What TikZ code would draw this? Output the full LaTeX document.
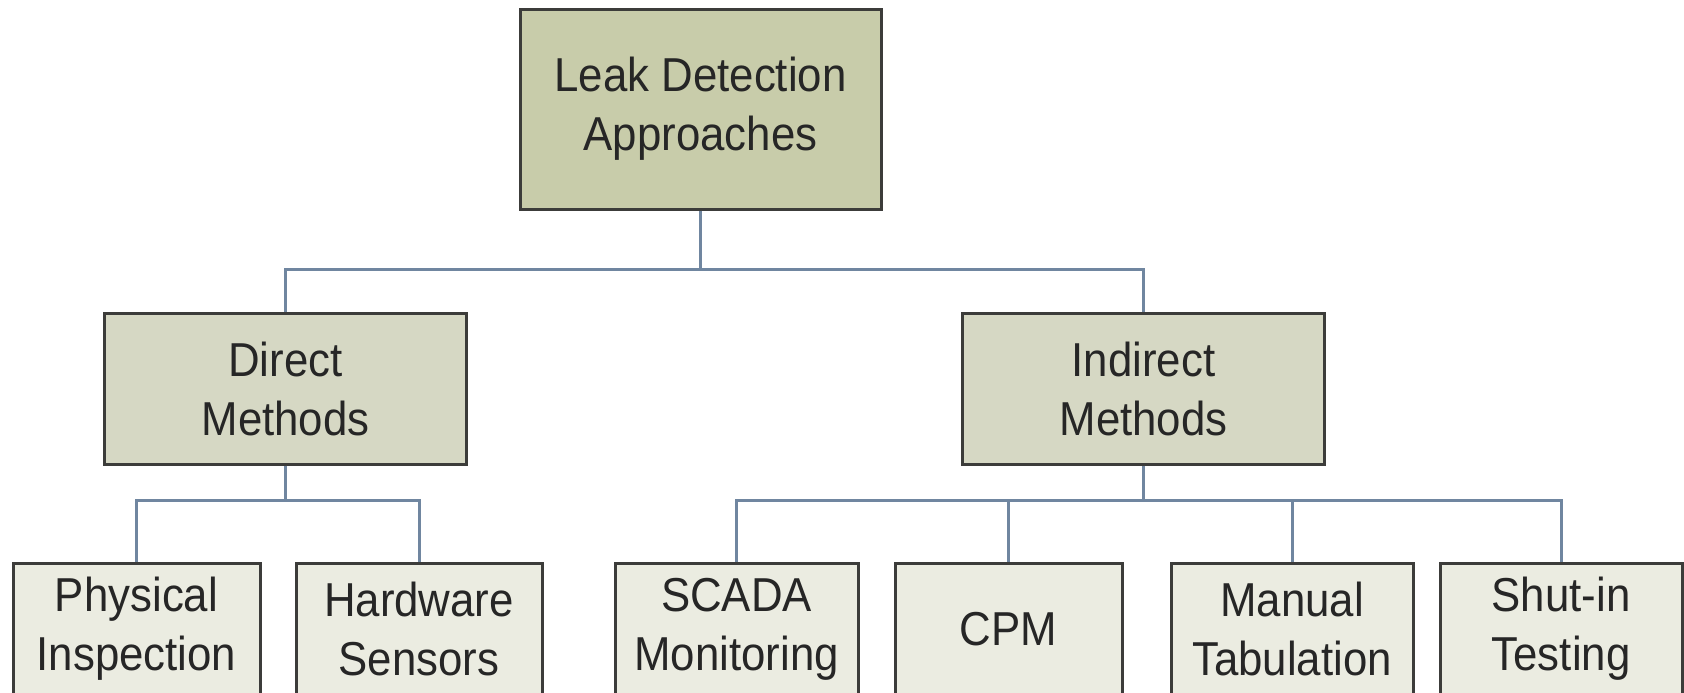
\documentclass[tikz,border=0pt]{standalone}
\usepackage{fontspec}
\setmainfont{Liberation Sans}[FakeStretch=0.92]
\definecolor{topfill}{RGB}{200,204,170}
\definecolor{midfill}{RGB}{214,216,196}
\definecolor{lowfill}{RGB}{235,236,225}
\definecolor{boxline}{RGB}{60,60,58}
\definecolor{conn}{RGB}{112,134,160}
\begin{document}
\begin{tikzpicture}[x=0.5pt,y=-0.5pt,
  box/.style={draw=boxline, line width=1.5pt, inner sep=0pt, align=center,
    font=\fontsize{23.8pt}{29.5pt}\selectfont, text=black!85},
  topbox/.style={box, fill=topfill, minimum width=180.5pt, minimum height=100pt},
  midbox/.style={box, fill=midfill, minimum width=181pt, minimum height=75.5pt},
  lowbox/.style={box, fill=lowfill, minimum height=66pt},
  link/.style={draw=conn, line width=1.5pt}]
\useasboundingbox (0,0) rectangle (1684,692);
\clip (0,0) rectangle (1684,692);
\fill[white] (0,0) rectangle (1684,692);
\node[topbox] (top) at (700.5,109) {Leak Detection\\Approaches};
\node[midbox] (direct) at (285.5,388.5) {Direct\\Methods};
\node[midbox] (indirect) at (1143.5,388.5) {Indirect\\Methods};
\node[lowbox, minimum width=123.5pt] (phys) at (136.5,629) {Physical\\Inspection};
\node[lowbox, minimum width=123pt] (hard) at (419,629) {Hardware\\Sensors};
\node[lowbox, minimum width=121.5pt] (scada) at (736.5,629) {SCADA\\Monitoring};
\node[lowbox, minimum width=113.5pt] (cpm) at (1008.5,629) {CPM};
\node[lowbox, minimum width=121pt] (manual) at (1292,629) {Manual\\Tabulation};
\node[lowbox, minimum width=121pt] (shut) at (1561,629) {Shut-in\\Testing};
\coordinate (b1) at (700.5,269);
\coordinate (b2) at (285.5,500);
\coordinate (b3) at (1143.5,500);
\draw[link] (top.south) -- (b1);
\draw[link] (direct.north) |- (b1) -| (indirect.north);
\draw[link] (direct.south) -- (b2);
\draw[link] (phys.north) |- (b2) -| (hard.north);
\draw[link] (indirect.south) -- (b3);
\draw[link] (scada.north) |- (b3) -| (shut.north);
\draw[link] (cpm.north) |- (b3);
\draw[link] (manual.north) |- (b3);
\end{tikzpicture}
\end{document}
